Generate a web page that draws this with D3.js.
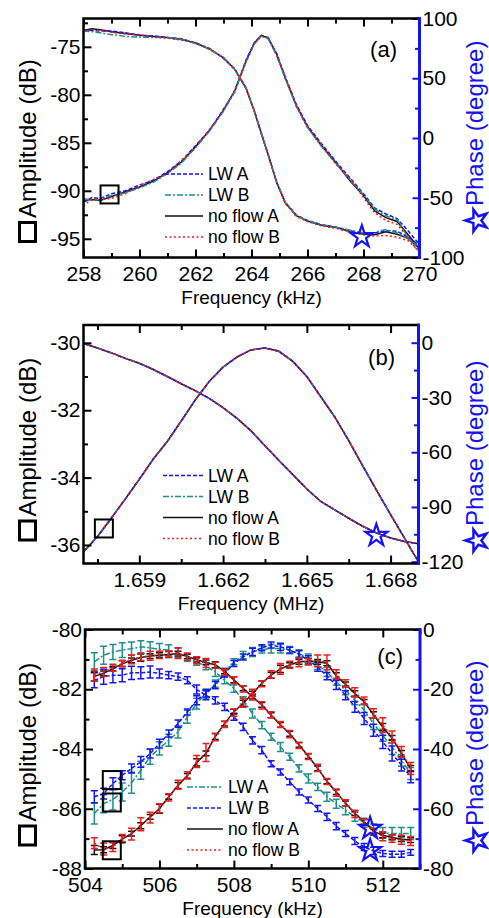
<!DOCTYPE html>
<html>
<head>
<meta charset="utf-8">
<script src="https://cdn.jsdelivr.net/npm/d3@7"></script>
<style>
    body { margin: 0; background: #fff; }
    text { font-family: "Liberation Sans", Arial, Helvetica, sans-serif; }
</style>
</head>
<body>
<svg id="vis"></svg>
<script>
// ---------- data : panel (a) ----------
var freqA = [258, 258.3, 258.6, 259, 259.5, 260, 260.5, 261, 261.5, 262, 262.5, 263, 263.4, 263.8, 264.1,
    264.35, 264.6, 264.9, 265.2, 265.6, 266, 266.5, 267, 267.5, 268, 268.4, 268.8, 269.2, 269.6, 270];
var ampA_nfA = [-91.0, -90.9, -91.0, -90.6, -90.1, -89.6, -89.0, -88.1, -87.0, -85.4, -83.7, -81.6, -79.6, -76.5, -74.6,
    -73.8, -74.1, -75.8, -78.2, -81.1, -83.3, -85.3, -87.0, -88.9, -90.5, -92.1, -92.8, -93.2, -94.6, -96.0];
var ampA_nfB = [-91.6, -90.8, -90.9, -90.8, -90.3, -89.5, -88.8, -88.2, -86.8, -85.5, -83.6, -81.7, -79.5, -76.6, -74.7,
    -73.9, -74.0, -75.9, -78.0, -81.2, -83.4, -85.2, -87.2, -88.7, -90.7, -92.3, -93.1, -93.5, -94.9, -96.5];
var ampA_lwA = [-91.2, -90.7, -90.8, -90.3, -90.0, -89.4, -88.9, -88.0, -86.9, -85.3, -83.7, -81.5, -79.7, -76.4, -74.6,
    -73.8, -74.1, -75.7, -78.1, -81.0, -83.2, -85.1, -86.9, -88.6, -90.3, -91.8, -92.4, -92.9, -94.2, -95.6];
var ampA_lwB = [-90.8, -91.0, -90.9, -90.5, -90.2, -89.7, -89.1, -88.2, -87.1, -85.5, -83.8, -81.7, -79.7, -76.6, -74.7,
    -73.9, -74.2, -75.9, -78.3, -81.2, -83.4, -85.4, -87.1, -88.8, -90.4, -91.9, -92.6, -93.0, -94.9, -96.2];
var phaseA_nfA = [90, 91.5, 90.5, 89, 87.5, 86, 85, 84, 82.5, 79.5, 74.5, 67, 57.5, 42, 22.5,
    4, -14.5, -37, -54, -65, -69.5, -73, -74.8, -78, -80.5, -81, -78.5, -80.5, -84, -92.5];
var phaseA_nfB = [89, 90.5, 90, 88.5, 87, 86.5, 84.5, 83.5, 82, 80, 74, 67.5, 57, 42.5, 22,
    4.5, -15, -36.5, -54.5, -65.5, -70, -73.5, -75.5, -78.5, -81, -82, -81.5, -83, -86, -95];
var phaseA_lwA = [90.5, 90, 89.5, 89.5, 88, 86, 85.5, 84, 83, 79.5, 75, 66.5, 58, 41.5, 23,
    3.5, -14, -37.5, -53.5, -64.5, -69, -72.5, -74.5, -77.5, -80, -79.5, -77.5, -78, -83, -90];
var phaseA_lwB = [89.5, 89, 88, 86.5, 85, 84.5, 84, 84, 82.5, 79, 74.5, 67, 57.5, 42, 22.5,
    4, -14.5, -37, -54, -64.5, -69.5, -72.5, -74.5, -77, -79.5, -79, -76.5, -79.5, -84.5, -91];

// ---------- data : panel (b) ----------
var freqB = [1.657, 1.6575, 1.658, 1.6585, 1.659, 1.6595, 1.66, 1.6605, 1.661, 1.6615, 1.662, 1.6625, 1.663,
    1.6635, 1.664, 1.6645, 1.665, 1.6655, 1.666, 1.6665, 1.667, 1.6675, 1.668, 1.6685, 1.669];
var ampB = [-36.2, -35.75, -35.2, -34.63, -34.05, -33.45, -32.93, -32.32, -31.7, -31.15, -30.72, -30.42, -30.21,
    -30.15, -30.25, -30.55, -31.0, -31.6, -32.2, -32.9, -33.65, -34.38, -35.1, -35.8, -36.5];
var phaseB = [-0.4, -2.9, -5.6, -8.6, -11.3, -14.7, -18.5, -22.5, -26.3, -30.5, -35.6, -41.5, -48.3,
    -56.5, -64.5, -72.3, -80.2, -87.0, -91.6, -96.2, -100.6, -104.3, -107.0, -108.9, -110.2];

// ---------- data : panel (c) ----------
var freqC = [504.25, 504.5, 504.75, 505, 505.25, 505.5, 505.75, 506, 506.25, 506.5, 506.75, 507, 507.25, 507.5,
    507.75, 508, 508.25, 508.5, 508.75, 509, 509.25, 509.5, 509.75, 510, 510.25, 510.5, 510.75, 511, 511.25,
    511.5, 511.75, 512, 512.25, 512.5, 512.75];
var ampC_nfA = [-87.38, -87.37, -87.23, -87.02, -86.83, -86.57, -86.27, -86.0, -85.6, -85.22, -84.9, -84.45, -84.15,
    -83.58, -83.15, -82.75, -82.47, -82.15, -81.8, -81.53, -81.32, -81.19, -81.08, -81.06, -81.08, -81.13, -81.55,
    -81.84, -82.15, -82.42, -82.85, -83.27, -83.63, -84.15, -84.65];
var ampC_nfB = [-87.15, -87.35, -87.28, -86.98, -86.85, -86.52, -86.3, -85.98, -85.62, -85.2, -84.88, -84.42, -84.12,
    -83.6, -83.18, -82.78, -82.45, -82.12, -81.82, -81.5, -81.32, -81.18, -81.1, -81.08, -81.05, -81.1, -81.5,
    -81.8, -82.1, -82.38, -82.8, -83.2, -83.6, -84.1, -84.65];
var ampC_lwA = [-86.16, -85.83, -85.69, -85.44, -85.13, -84.71, -84.26, -83.98, -83.71, -83.43, -82.92, -82.48, -82.14,
    -81.81, -81.42, -81.08, -80.86, -80.75, -80.67, -80.64, -80.64, -80.69, -80.8, -80.97, -81.19, -81.42, -81.75,
    -82.03, -82.37, -82.7, -83.15, -83.54, -83.93, -84.38, -84.82];
var ampC_lwB = [-85.6, -85.49, -85.16, -84.88, -84.65, -84.43, -84.15, -83.82, -83.48, -83.15, -82.76, -82.37, -82.14,
    -81.86, -81.47, -81.14, -80.92, -80.75, -80.61, -80.52, -80.58, -80.69, -80.83, -81.03, -81.25, -81.56, -81.86,
    -82.2, -82.59, -82.98, -83.37, -83.76, -84.15, -84.54, -84.93];
var phaseC_nfA = [-15.7, -14.7, -13.1, -11.5, -10.3, -9.4, -8.9, -8.6, -8.4, -8.1, -9.0, -10.1, -11.0, -11.8,
    -14.0, -16.8, -19.7, -22.5, -25.2, -28.7, -31.9, -34.9, -38.6, -42.4, -46.5, -50.8, -54.4, -58.2, -61.5,
    -64.4, -67.5, -68.9, -69.6, -70.2, -70.5];
var phaseC_nfB = [-15.2, -14.2, -12.8, -11.3, -10.0, -9.2, -8.8, -8.5, -8.2, -7.9, -9.1, -10.3, -11.2, -12.0,
    -14.3, -17.0, -19.9, -22.6, -25.4, -28.5, -31.8, -35.0, -38.8, -42.5, -46.3, -50.9, -54.6, -58.0, -61.7,
    -64.6, -67.7, -69.2, -70.0, -70.4, -70.8];
var phaseC_lwA = [-10.8, -8.6, -7.5, -6.9, -6.4, -5.8, -6.1, -6.7, -6.9, -7.8, -9.4, -10.8, -12.3, -14.2,
    -17.0, -19.8, -23.7, -28.1, -32.0, -35.9, -39.3, -42.6, -46.5, -49.9, -52.7, -56.0, -58.3, -60.5, -62.7,
    -64.7, -66.6, -68.1, -68.3, -68.3, -68.3];
var phaseC_lwB = [-17.0, -15.8, -15.3, -15.3, -14.5, -14.5, -14.2, -14.7, -15.3, -15.8, -17.0, -20.1, -22.0, -23.7,
    -25.9, -29.2, -32.6, -37.1, -40.4, -44.9, -47.7, -51.0, -54.4, -57.1, -59.9, -62.7, -65.8, -68.3, -70.8,
    -72.8, -74.1, -75.0, -75.2, -75.2, -74.6];
// error bars (dB for amplitude, degree for phase)
var errAmpC_nfA = [0.15, 0.1, 0.1, 0.12, 0.08, 0.1, 0.08, 0.15, 0.08, 0.1, 0.08, 0.12, 0.08, 0.1, 0.08, 0.08, 0.1, 0.08,
    0.08, 0.1, 0.12, 0.08, 0.08, 0.1, 0.08, 0.08, 0.1, 0.08, 0.1, 0.08, 0.1, 0.12, 0.08, 0.1, 0.1];
var errAmpC_nfB = [0.18, 0.2, 0.15, 0.12, 0.2, 0.22, 0.18, 0.15, 0.12, 0.15, 0.12, 0.2, 0.3, 0.12, 0.1, 0.12, 0.15, 0.12,
    0.1, 0.12, 0.18, 0.12, 0.15, 0.1, 0.2, 0.25, 0.15, 0.12, 0.15, 0.12, 0.15, 0.25, 0.2, 0.18, 0.2];
var errAmpC_lwA = [0.35, 0.3, 0.35, 0.3, 0.35, 0.3, 0.25, 0.22, 0.2, 0.2, 0.22, 0.18, 0.15, 0.12, 0.12, 0.1, 0.12, 0.15,
    0.12, 0.15, 0.15, 0.12, 0.12, 0.15, 0.15, 0.15, 0.12, 0.15, 0.15, 0.18, 0.2, 0.2, 0.25, 0.2, 0.2];
var errAmpC_lwB = [0.2, 0.18, 0.2, 0.15, 0.15, 0.18, 0.15, 0.15, 0.12, 0.12, 0.1, 0.15, 0.12, 0.12, 0.12, 0.1, 0.1, 0.12,
    0.1, 0.1, 0.12, 0.1, 0.12, 0.15, 0.15, 0.12, 0.15, 0.15, 0.18, 0.2, 0.2, 0.22, 0.25, 0.2, 0.2];
var errPhaseC_nfA = [1.5, 0.8, 0.8, 1.0, 0.8, 1.2, 0.8, 0.8, 1.0, 0.8, 0.8, 0.8, 0.8, 1.0, 0.8, 1.0, 0.8, 0.8,
    0.8, 0.8, 0.8, 0.8, 0.8, 0.8, 0.8, 0.8, 0.8, 0.8, 0.8, 0.8, 0.8, 0.8, 0.8, 0.8, 0.8];
var errPhaseC_nfB = [2.0, 1.5, 1.2, 1.0, 1.5, 1.2, 1.5, 1.2, 1.0, 1.8, 1.2, 1.2, 1.5, 1.0, 1.0, 1.2, 1.0, 1.0,
    1.2, 1.0, 1.0, 1.2, 1.0, 1.0, 1.2, 1.0, 1.2, 1.0, 1.2, 1.0, 1.2, 1.5, 1.2, 1.5, 1.5];
var errPhaseC_lwA = [3.0, 3.0, 2.5, 2.5, 2.2, 2.0, 2.0, 2.0, 1.8, 1.5, 1.2, 1.2, 1.2, 1.5, 1.2, 1.2, 1.2, 1.5,
    1.2, 1.2, 1.5, 1.2, 1.2, 1.5, 1.2, 1.5, 1.5, 1.5, 1.5, 1.5, 1.5, 1.8, 2.0, 2.0, 2.0];
var errPhaseC_lwB = [2.5, 2.5, 2.5, 2.2, 2.2, 2.0, 2.0, 1.5, 1.2, 1.2, 1.2, 1.5, 1.5, 1.2, 1.2, 1.2, 1.2, 1.2,
    1.2, 1.0, 1.0, 1.0, 1.0, 1.0, 1.0, 1.2, 1.2, 1.0, 1.2, 1.2, 1.2, 1.0, 1.0, 1.0, 1.0];

// ---------- ticks ----------
var xTicksA = [258, 260, 262, 264, 266, 268, 270], xMinorA = [259, 261, 263, 265, 267, 269];
var yTicksA = [-95, -90, -85, -80, -75], yMinorA = [-92.5, -87.5, -82.5, -77.5, -72.5];
var rTicksA = [-100, -50, 0, 50, 100], rMinorA = [-75, -25, 25, 75];
var xTicksB = [1.659, 1.662, 1.665, 1.668], xMinorB = [1.6575, 1.6605, 1.6635, 1.6665];
var yTicksB = [-36, -34, -32, -30], yMinorB = [-35, -33, -31];
var rTicksB = [-120, -90, -60, -30, 0], rMinorB = [-105, -75, -45, -15];
var xTicksC = [504, 506, 508, 510, 512], xMinorC = [505, 507, 509, 511, 513];
var yTicksC = [-88, -86, -84, -82, -80], yMinorC = [-87, -85, -83, -81];
var rTicksC = [-80, -60, -40, -20, 0], rMinorC = [-70, -50, -30, -10];

// marker positions [x, value]
var squaresA = [[258.93, -90.38]], starsA = [[267.94, -81.4]];
var squaresB = [[1.65773, -35.51]], starsB = [[1.66749, -104.8]];
var squaresC = [[504.72, -85.04], [504.72, -85.79], [504.72, -87.39]], starsC = [[511.66, -66.1], [511.66, -73.5]];

// ---------- styles ----------
var BLUE = "#1414f2", TEAL = "#1d8f8a", RED = "#f01c1c", BLACK = "#111";
var lwDash = "4,2", lwDashDot = "6,2,2,2", nfDot = "2,2.5";

var width = 489, height = 918;
var svg = d3.select("#vis").attr("width", width).attr("height", height);
svg.append("rect").attr("width", width).attr("height", height).attr("fill", "#fff");

var panels = [{
    id: "a", label: "(a)", xTitle: "Frequency (kHz)", freq: freqA,
    left: 83.5, right: 419.5, top: 18.5, bottom: 257.5,
    xDomain: [258, 270], yDomain: [-96.95, -72.05], rDomain: [-100, 100],
    xTicks: xTicksA, xMinor: xMinorA, yTicks: yTicksA, yMinor: yMinorA, rTicks: rTicksA, rMinor: rMinorA,
    xFmt: d3.format("d"), squares: squaresA, stars: starsA,
    labelX: 397, labelY: 57, legX: 165, legY: 174, legLen: 38,
    sqBottom: 243, starY: 219,
    series: [
        { name: "no flow A", color: BLACK, dash: null, amp: ampA_nfA, phase: phaseA_nfA },
        { name: "LW A", color: BLUE, dash: lwDash, amp: ampA_lwA, phase: phaseA_lwA },
        { name: "LW B", color: TEAL, dash: lwDashDot, amp: ampA_lwB, phase: phaseA_lwB },
        { name: "no flow B", color: RED, dash: nfDot, amp: ampA_nfB, phase: phaseA_nfB }
    ],
    legend: ["LW A", "LW B", "no flow A", "no flow B"]
}, {
    id: "b", label: "(b)", xTitle: "Frequency (MHz)", freq: freqB,
    left: 83.5, right: 418.5, top: 325, bottom: 563.5,
    xDomain: [1.657, 1.669], yDomain: [-36.55, -29.47], rDomain: [-121, 9.7],
    xTicks: xTicksB, xMinor: xMinorB, yTicks: yTicksB, yMinor: yMinorB, rTicks: rTicksB, rMinor: rMinorB,
    xFmt: d3.format(".3f"), squares: squaresB, stars: starsB,
    labelX: 395, labelY: 365, legX: 163, legY: 475.5, legLen: 40,
    sqBottom: 541.5, starY: 539,
    series: [
        { name: "no flow A", color: BLACK, dash: null, amp: ampB, phase: phaseB },
        { name: "LW B", color: TEAL, dash: lwDashDot, amp: ampB, phase: phaseB },
        { name: "LW A", color: BLUE, dash: lwDash, amp: ampB, phase: phaseB },
        { name: "no flow B", color: RED, dash: nfDot, amp: ampB, phase: phaseB }
    ],
    legend: ["LW A", "LW B", "no flow A", "no flow B"]
}, {
    id: "c", label: "(c)", xTitle: "Frequency (kHz)", freq: freqC,
    left: 85, right: 420, top: 629.5, bottom: 868.5,
    xDomain: [504, 513], yDomain: [-88, -80], rDomain: [-80, 0],
    xTicks: xTicksC, xMinor: xMinorC, yTicks: yTicksC, yMinor: yMinorC, rTicks: rTicksC, rMinor: rMinorC,
    xFmt: d3.format("d"), squares: squaresC, stars: starsC,
    labelX: 403, labelY: 664, legX: 187, legY: 787, legLen: 36,
    sqBottom: 846.5, starY: 839,
    series: [
        { name: "LW A", color: TEAL, dash: lwDashDot, amp: ampC_lwA, phase: phaseC_lwA, ampErr: errAmpC_lwA, phaseErr: errPhaseC_lwA },
        { name: "LW B", color: BLUE, dash: lwDash, amp: ampC_lwB, phase: phaseC_lwB, ampErr: errAmpC_lwB, phaseErr: errPhaseC_lwB },
        { name: "no flow A", color: BLACK, dash: null, amp: ampC_nfA, phase: phaseC_nfA, ampErr: errAmpC_nfA, phaseErr: errPhaseC_nfA },
        { name: "no flow B", color: RED, dash: nfDot, amp: ampC_nfB, phase: phaseC_nfB, ampErr: errAmpC_nfB, phaseErr: errPhaseC_nfB }
    ],
    legend: ["LW A", "LW B", "no flow A", "no flow B"]
}];

var starPath = d3.symbol().type(d3.symbolStar).size(150)();

// style the tick text / lines of an axis group
var styleAxis = function (g, color, labelColor) {
    g.attr("font-size", null).attr("font-family", null).style("color", color);
    g.select(".domain").remove();
    g.selectAll("line").attr("stroke-width", 2);
    g.selectAll("text").attr("fill", labelColor).style("font-size", "21px");
};

var drawPanel = function (p) {
    var x = d3.scaleLinear().domain(p.xDomain).range([p.left, p.right]);
    var y = d3.scaleLinear().domain(p.yDomain).range([p.bottom, p.top]);
    var r = d3.scaleLinear().domain(p.rDomain).range([p.bottom, p.top]);
    var g = svg.append("g");

    svg.append("clipPath").attr("id", "clip-" + p.id)
        .append("rect")
        .attr("x", p.left).attr("y", p.top)
        .attr("width", p.right - p.left).attr("height", p.bottom - p.top);
    var plot = g.append("g").attr("clip-path", "url(#clip-" + p.id + ")");

    // curves (amplitude on left scale, phase on right scale)
    p.series.forEach(function (s) {
        [[s.amp, y, s.ampErr], [s.phase, r, s.phaseErr]].forEach(function (c) {
            var vals = c[0], sc = c[1], err = c[2];
            var pts = p.freq.map(function (f, i) { return [f, vals[i], err ? err[i] : 0]; });
            plot.append("path")
                .datum(pts)
                .attr("fill", "none")
                .attr("stroke", s.color)
                .attr("stroke-width", 1.5)
                .attr("stroke-dasharray", s.dash)
                .attr("d", d3.line().x(function (d) { return x(d[0]); }).y(function (d) { return sc(d[1]); }));
            if (err) {
                var eb = plot.append("g").attr("stroke", s.color).attr("stroke-width", 1.5);
                pts.forEach(function (d) {
                    var cx = x(d[0]), y0 = sc(d[1] - d[2]), y1 = sc(d[1] + d[2]);
                    eb.append("line").attr("x1", cx).attr("x2", cx).attr("y1", y0).attr("y2", y1);
                    eb.append("line").attr("x1", cx - 3.5).attr("x2", cx + 3.5).attr("y1", y0).attr("y2", y0);
                    eb.append("line").attr("x1", cx - 3.5).attr("x2", cx + 3.5).attr("y1", y1).attr("y2", y1);
                });
            }
        });
    });

    // markers
    p.squares.forEach(function (d) {
        g.append("rect")
            .attr("x", x(d[0]) - 9).attr("y", y(d[1]) - 9)
            .attr("width", 18).attr("height", 18)
            .attr("fill", "none").attr("stroke", "#000").attr("stroke-width", 2);
    });
    p.stars.forEach(function (d) {
        g.append("path")
            .attr("d", starPath)
            .attr("transform", "translate(" + x(d[0]) + "," + (r(d[1]) + 1.5) + ")")
            .attr("fill", "none").attr("stroke", BLUE).attr("stroke-width", 2.2);
    });

    // axes
    var bottom = g.append("g").attr("transform", "translate(0," + p.bottom + ")")
        .call(d3.axisBottom(x).tickValues(p.xTicks).tickSize(-8).tickPadding(9).tickFormat(p.xFmt));
    styleAxis(bottom, "#000", "#000");
    var bottomMinor = g.append("g").attr("transform", "translate(0," + p.bottom + ")")
        .call(d3.axisBottom(x).tickValues(p.xMinor).tickSize(-4.5).tickFormat(""));
    styleAxis(bottomMinor, "#000", "#000");
    var top = g.append("g").attr("transform", "translate(0," + p.top + ")")
        .call(d3.axisTop(x).tickValues(p.xTicks.concat(p.xMinor)).tickSize(-5).tickFormat(""));
    styleAxis(top, "#000", "#000");
    top.selectAll(".tick line").filter(function (d) { return p.xTicks.indexOf(d) >= 0; }).attr("y2", 8);

    var left = g.append("g").attr("transform", "translate(" + p.left + ",0)")
        .call(d3.axisLeft(y).tickValues(p.yTicks).tickSize(-8).tickPadding(3).tickFormat(function (d) { return String(d); }));
    styleAxis(left, "#000", "#000");
    var leftMinor = g.append("g").attr("transform", "translate(" + p.left + ",0)")
        .call(d3.axisLeft(y).tickValues(p.yMinor).tickSize(-4.5).tickFormat(""));
    styleAxis(leftMinor, "#000", "#000");

    var right = g.append("g").attr("transform", "translate(" + p.right + ",0)")
        .call(d3.axisRight(r).tickValues(p.rTicks).tickSize(-7).tickPadding(3).tickFormat(function (d) { return String(d); }));
    styleAxis(right, BLUE, "#000");
    var rightMinor = g.append("g").attr("transform", "translate(" + p.right + ",0)")
        .call(d3.axisRight(r).tickValues(p.rMinor).tickSize(-4.5).tickFormat(""));
    styleAxis(rightMinor, BLUE, "#000");

    // frame
    g.append("path")
        .attr("d", "M" + p.right + "," + p.top + "H" + p.left + "V" + p.bottom + "H" + p.right)
        .attr("fill", "none").attr("stroke", "#000").attr("stroke-width", 2.5);
    g.append("line")
        .attr("x1", p.right).attr("x2", p.right).attr("y1", p.top - 1.5).attr("y2", p.bottom + 1.5)
        .attr("stroke", BLUE).attr("stroke-width", 3);

    // panel label
    g.append("text").attr("x", p.labelX).attr("y", p.labelY)
        .attr("text-anchor", "end").style("font-size", "22px").text(p.label);

    // legend
    p.legend.forEach(function (name, i) {
        var s = p.series.filter(function (d) { return d.name === name; })[0];
        var ly = p.legY + i * 21;
        g.append("line")
            .attr("x1", p.legX).attr("x2", p.legX + p.legLen).attr("y1", ly).attr("y2", ly)
            .attr("stroke", s.color).attr("stroke-width", 1.6).attr("stroke-dasharray", s.dash);
        g.append("text").attr("x", p.legX + p.legLen + 5).attr("y", ly + 6)
            .style("font-size", "17.5px").text(name);
    });

    // x title
    g.append("text").attr("x", (p.left + p.right) / 2).attr("y", p.bottom + 46)
        .attr("text-anchor", "middle").style("font-size", "19px").text(p.xTitle);

    // left title with square symbol
    g.append("rect")
        .attr("x", 19.5).attr("y", p.sqBottom - 20.5)
        .attr("width", 16).attr("height", 19)
        .attr("fill", "none").attr("stroke", "#000").attr("stroke-width", 3);
    g.append("text")
        .attr("transform", "translate(36," + (p.sqBottom - 25) + ") rotate(-90)")
        .style("font-size", "24px").text("Amplitude (dB)");

    // right title with star symbol
    g.append("path")
        .attr("d", starPath)
        .attr("transform", "translate(477," + (p.starY + 1.5) + ") rotate(-90)")
        .attr("fill", "none").attr("stroke", BLUE).attr("stroke-width", 2.5);
    g.append("text")
        .attr("transform", "translate(483," + (p.starY - 13) + ") rotate(-90)")
        .attr("fill", BLUE)
        .style("font-size", "24px").text("Phase (degree)");
};

panels.forEach(drawPanel);
</script>
</body>
</html>
